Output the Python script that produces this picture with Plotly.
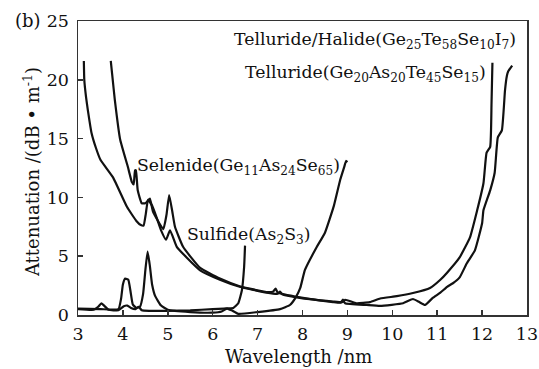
import plotly.graph_objects as go

# Telluride/Halide (Ge25Te58Se10I7) - ends near 12.2 um
tel_hal_x = [3.13, 3.14, 3.18, 3.22, 3.30, 3.40, 3.50, 3.78, 4.09, 4.30, 4.40, 4.46, 4.51, 4.56, 4.65,
             4.75, 4.85, 4.96, 5.05, 5.20, 5.43, 5.72, 6.16, 6.60, 7.20, 7.45, 7.50, 7.55, 7.94, 8.40,
             8.68, 8.90, 8.95, 9.20, 9.50, 9.73, 10.10, 10.46, 10.84, 11.07, 11.22, 11.50, 11.73,
             11.89, 12.03, 12.10, 12.18, 12.21, 12.23]
tel_hal_y = [21.6, 20.0, 18.5, 17.4, 15.5, 14.2, 13.2, 11.7, 9.2, 8.0, 7.65, 7.6, 8.6, 9.8, 9.3,
             8.3, 7.2, 6.4, 7.2, 5.8, 4.85, 3.8, 3.0, 2.4, 1.9, 1.8, 2.0, 1.75, 1.45, 1.25,
             1.15, 1.1, 1.3, 1.0, 1.1, 1.4, 1.6, 1.87, 2.3, 3.0, 3.6, 4.9, 6.6,
             8.9, 11.2, 13.8, 14.3, 18.0, 21.45]

# Telluride (Ge20As20Te45Se15) - ends near 12.7 um
tel_x = [3.73, 3.76, 3.82, 3.94, 4.11, 4.20, 4.24, 4.27, 4.29, 4.33, 4.42, 4.50, 4.60, 4.67, 4.90,
         4.97, 5.03, 5.10, 5.16, 5.34, 5.72, 6.16, 6.60, 7.20, 7.35, 7.40, 7.45, 7.94, 8.68, 8.85,
         8.90, 8.95, 9.43, 9.73, 10.24, 10.46, 10.60, 10.73, 10.90, 11.07, 11.22, 11.35, 11.50,
         11.66, 11.84, 12.00, 12.03, 12.18, 12.28, 12.35, 12.44, 12.51, 12.55, 12.58, 12.67]
tel_y = [21.6, 20.5, 18.3, 14.9, 12.6, 11.3, 11.1, 12.3, 12.3, 10.6, 9.5, 9.5, 9.9, 8.8, 7.3,
         8.5, 10.2, 8.8, 7.5, 5.8, 4.0, 3.1, 2.45, 1.95, 2.0, 2.25, 1.9, 1.5, 1.1, 1.05,
         1.3, 1.0, 0.85, 0.77, 1.0, 1.36, 1.1, 0.85, 1.45, 1.9, 2.4, 2.7, 3.2,
         4.4, 5.5, 7.8, 8.9, 10.6, 12.1, 15.1, 15.7, 19.1, 20.3, 20.7, 21.2]

# Selenide (Ge11As24Se65)
sel_x = [3.0, 3.5, 3.9, 3.96, 4.0, 4.05, 4.12, 4.17, 4.22, 4.30, 4.38, 4.45, 4.50, 4.55, 4.60,
         4.65, 4.72, 4.85, 5.0, 5.5, 6.0, 6.20, 6.32, 6.42, 6.57, 7.0, 7.5, 7.72, 7.85, 7.95,
         8.05, 8.15, 8.32, 8.50, 8.70, 8.84, 8.93, 8.97, 9.0]
sel_y = [0.55, 0.5, 0.5, 1.4, 2.6, 3.1, 3.0, 2.0, 0.9, 0.6, 0.7, 1.8, 3.8, 5.4, 4.2,
         2.6, 1.6, 0.8, 0.45, 0.25, 0.2, 0.3, 0.55, 0.4, 0.1, 0.25, 0.5, 0.85, 1.5, 2.3,
         3.8, 4.6, 5.8, 7.0, 9.3, 11.5, 12.6, 13.1, 13.0]

# Sulfide (As2S3)
sul_x = [3.0, 3.35, 3.45, 3.52, 3.58, 3.68, 3.90, 4.02, 4.10, 4.18, 4.28, 4.35, 4.42, 4.60, 5.0,
         5.5, 6.0, 6.25, 6.46, 6.57, 6.65, 6.70, 6.72]
sul_y = [0.5, 0.45, 0.7, 1.0, 0.8, 0.45, 0.4, 0.75, 0.8, 0.6, 0.5, 0.7, 0.4, 0.35, 0.35,
         0.4, 0.5, 0.55, 0.6, 1.0, 2.1, 4.1, 5.9]

x_ticks = [3, 4, 5, 6, 7, 8, 9, 10, 11, 12, 13]
y_ticks = [0, 5, 10, 15, 20, 25]

FONT = "DejaVu Serif"
INK = "#111111"

fig = go.Figure()
for xs, ys in [(tel_hal_x, tel_hal_y), (tel_x, tel_y), (sel_x, sel_y), (sul_x, sul_y)]:
    fig.add_trace(go.Scatter(x=xs, y=ys, mode="lines",
                             line=dict(color=INK, width=2.2, shape="spline", smoothing=0.4),
                             showlegend=False, hoverinfo="skip"))

labels = [
    ("Telluride/Halide(Ge<sub>25</sub>Te<sub>58</sub>Se<sub>10</sub>I<sub>7</sub>)", 6.43, 23.3),
    ("Telluride(Ge<sub>20</sub>As<sub>20</sub>Te<sub>45</sub>Se<sub>15</sub>)", 6.67, 20.5),
    ("Selenide(Ge<sub>11</sub>As<sub>24</sub>Se<sub>65</sub>)", 4.27, 12.6),
    ("Sulfide(As<sub>2</sub>S<sub>3</sub>)", 5.38, 6.8),
]
for txt, lx, ly in labels:
    fig.add_annotation(x=lx, y=ly, xref="x", yref="y", text=txt, showarrow=False,
                       xanchor="left", yanchor="middle",
                       font=dict(family=FONT, size=17.3, color=INK))

# panel tag and axis titles
fig.add_annotation(x=-0.145, y=1.003, xref="paper", yref="paper", text="(b)", showarrow=False,
                   xanchor="left", yanchor="middle", font=dict(family=FONT, size=18, color=INK))
fig.add_annotation(x=0.492, y=-0.142, xref="paper", yref="paper", text="Wavelength /nm",
                   showarrow=False, xanchor="center", yanchor="middle",
                   font=dict(family=FONT, size=18, color=INK))
fig.add_annotation(x=-0.1025, y=0.486, xref="paper", yref="paper",
                   text="Attenuation /(dB • m<sup>-1</sup>)", textangle=-90,
                   showarrow=False, xanchor="center", yanchor="middle",
                   font=dict(family=FONT, size=18, color=INK))

fig.update_layout(
    width=539, height=369,
    margin=dict(l=78, r=12, t=21, b=54, autoexpand=False),
    paper_bgcolor="white", plot_bgcolor="white",
    font=dict(family=FONT, size=18, color=INK),
)
fig.update_xaxes(range=[3, 13], tickvals=x_ticks, ticks="inside", ticklen=5, tickwidth=1.5,
                 tickcolor="#333333", showline=True, linecolor="#333333", linewidth=1.5,
                 mirror=True, showgrid=False, zeroline=False, ticklabelstandoff=2,
                 automargin=False, tickfont=dict(size=17.5))
fig.update_yaxes(range=[0, 25], tickvals=y_ticks, ticks="inside", ticklen=5, tickwidth=1.5,
                 tickcolor="#333333", showline=True, linecolor="#333333", linewidth=1.5,
                 mirror=True, showgrid=False, zeroline=False, ticklabelstandoff=4,
                 automargin=False, tickfont=dict(size=17.5))

# remove the default page margin so the figure fills the window exactly
fig.write_html("out.html",
               config={"displayModeBar": False, "staticPlot": True},
               post_script="document.body.style.margin='0';document.body.style.overflow='hidden';")
